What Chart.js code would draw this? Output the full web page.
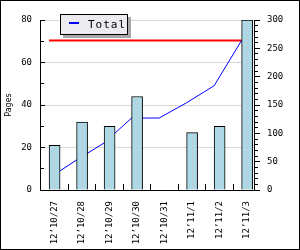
<!DOCTYPE html>
<html>
<head>
<meta charset="utf-8">
<script src="https://cdn.jsdelivr.net/npm/chart.js@4"></script>
<style>
  html, body { margin: 0; padding: 0; background: #fff; }
  canvas { display: block; }
</style>
</head>
<body>
<canvas id="chart" width="300" height="250"></canvas>
<script>
// values
var days = ['12’10/27', '12’10/28', '12’10/29', '12’10/30', '12’10/31', '12’11/1', '12’11/2', '12’11/3'];
var pages = [21, 32, 30, 44, 0, 27, 30, 80];
var totalPages = [21, 53, 83, 127, 127, 154, 184, 264];
var totalLimit = [264, 264, 264, 264, 264, 264, 264, 264];
var leftTicks = [0, 20, 40, 60, 80];
var rightTicks = [0, 50, 100, 150, 200, 250, 300];

var tickFont = { family: 'DejaVu Sans Mono', size: 9 };

function crisp(p) {
  return Math.round(p - 0.5) + 0.5;
}

function tickLine(ctx, x1, y1, x2, y2) {
  ctx.beginPath();
  ctx.moveTo(x1, y1);
  ctx.lineTo(x2, y2);
  ctx.stroke();
}

function toPoints(values) {
  return values.map(function(v, i) { return { x: i, y: v }; });
}

// white page + outer frame
var framePlugin = {
  id: 'frame',
  beforeDraw: function(chart) {
    var ctx = chart.ctx;
    ctx.save();
    ctx.fillStyle = '#fff';
    ctx.fillRect(0, 0, chart.width, chart.height);
    ctx.restore();
  },
  afterDraw: function(chart) {
    var ctx = chart.ctx;
    ctx.save();
    ctx.strokeStyle = '#000';
    ctx.lineWidth = 1;
    ctx.strokeRect(0.5, 0.5, chart.width - 1, chart.height - 1);
    ctx.restore();
  }
};

// little dotted line down the middle of every bar
var barDots = {
  id: 'barDots',
  afterDatasetsDraw: function(chart) {
    var ctx = chart.ctx;
    ctx.save();
    ctx.strokeStyle = '#e8b0a8';
    ctx.lineWidth = 1;
    ctx.setLineDash([1, 3]);
    chart.getDatasetMeta(0).data.forEach(function(bar) {
      if (bar.base - bar.y < 4) return;
      var x = crisp(bar.x);
      tickLine(ctx, x, bar.y + 3, x, bar.base);
    });
    ctx.restore();
  }
};

// tick marks: inward on left and bottom, outward on the right, with minors
var axisMarks = {
  id: 'axisMarks',
  afterDraw: function(chart) {
    var ctx = chart.ctx;
    var area = chart.chartArea;
    var y = chart.scales.y, y1 = chart.scales.y1, x = chart.scales.x;
    var left = Math.round(area.left);
    var right = Math.round(area.right);
    var bottom = Math.round(area.bottom);
    ctx.save();
    ctx.strokeStyle = '#000';
    ctx.lineWidth = 1;
    for (var v = y.min; v <= y.max; v += 10) {
      var py = crisp(y.getPixelForValue(v));
      tickLine(ctx, left, py, left + (v % 20 === 0 ? 5 : 4), py);
    }
    for (var w = y1.min; w <= y1.max; w += 10) {
      var qy = crisp(y1.getPixelForValue(w));
      tickLine(ctx, right, qy, right + (w % 50 === 0 ? 6 : 4), qy);
    }
    for (var i = 0; i < days.length - 1; i++) {
      var px = crisp(x.getPixelForValue(i + 0.5));
      tickLine(ctx, px, bottom - 6, px, bottom + 1);
    }
    ctx.restore();
  }
};

// boxed legend with a drop shadow
var boxLegend = {
  id: 'boxLegend',
  afterDraw: function(chart) {
    var ctx = chart.ctx;
    var ds = chart.data.datasets[1];
    ctx.save();
    ctx.fillStyle = '#a8a8a8';
    ctx.fillRect(63, 17, 68, 21);
    ctx.fillStyle = '#ecebf0';
    ctx.fillRect(60, 14, 68, 21);
    ctx.strokeStyle = '#000';
    ctx.lineWidth = 1;
    ctx.strokeRect(60.5, 14.5, 67, 20);
    ctx.strokeStyle = ds.borderColor;
    ctx.lineWidth = 2;
    tickLine(ctx, 69, 23, 79, 23);
    ctx.fillStyle = '#000';
    ctx.font = '11px "DejaVu Sans Mono"';
    ctx.letterSpacing = '1px';
    ctx.textBaseline = 'alphabetic';
    ctx.fillText(ds.label, 88, 28);
    ctx.restore();
  }
};

new Chart(document.getElementById('chart'), {
  type: 'bar',
  data: {
    datasets: [{
      type: 'bar',
      label: 'Pages',
      data: toPoints(pages),
      xAxisID: 'x',
      yAxisID: 'y',
      backgroundColor: '#add8e6',
      borderColor: '#000',
      borderWidth: 1,
      borderSkipped: 'bottom',
      barThickness: 11,
      grouped: false
    }, {
      type: 'line',
      label: 'Total',
      data: toPoints(totalPages),
      xAxisID: 'xl',
      yAxisID: 'y1',
      borderColor: '#0000ff',
      borderWidth: 1,
      pointRadius: 0,
      tension: 0,
      fill: false
    }, {
      type: 'line',
      label: 'Limit',
      data: toPoints(totalLimit),
      xAxisID: 'xl',
      yAxisID: 'y1',
      borderColor: '#ff0000',
      borderWidth: 2,
      pointRadius: 0,
      fill: false
    }]
  },
  options: {
    responsive: false,
    animation: false,
    devicePixelRatio: 1,
    layout: { padding: { top: 20, left: 0, right: 0, bottom: 0 } },
    plugins: {
      legend: { display: false },
      tooltip: { enabled: false }
    },
    scales: {
      x: {
        type: 'linear',
        position: 'bottom',
        min: -0.53,
        max: 7.25,
        offset: false,
        afterBuildTicks: function(s) {
          s.ticks = days.map(function(d, i) { return { value: i }; });
        },
        ticks: {
          autoSkip: false,
          maxRotation: 90,
          minRotation: 90,
          padding: 11,
          color: '#000',
          font: tickFont,
          callback: function(v) { return days[v]; }
        },
        grid: { display: false, drawTicks: false, offset: false },
        border: { display: true, color: '#000' },
        afterFit: function(s) { s.height = 60; }
      },
      xl: {
        type: 'linear',
        display: false,
        min: -0.33,
        max: 7.45,
        offset: false
      },
      y: {
        position: 'left',
        min: 0,
        max: 80,
        afterBuildTicks: function(s) {
          s.ticks = leftTicks.map(function(v) { return { value: v }; });
        },
        ticks: { padding: 8, color: '#000', font: tickFont },
        grid: {
          drawTicks: false,
          color: function(c) { return c.tick && c.tick.value === 0 ? 'rgba(0,0,0,0)' : '#d8d8d8'; }
        },
        border: { color: '#000' },
        title: {
          display: true,
          text: 'Pages',
          color: '#000',
          font: { family: 'DejaVu Sans', size: 8 },
          padding: { top: 4, bottom: 0 }
        },
        afterFit: function(s) { s.width = 40; }
      },
      y1: {
        position: 'right',
        min: 0,
        max: 300,
        afterBuildTicks: function(s) {
          s.ticks = rightTicks.map(function(v) { return { value: v }; });
        },
        ticks: { padding: 13, color: '#000', font: tickFont },
        grid: { display: false, drawTicks: false },
        border: { color: '#000' },
        afterFit: function(s) { s.width = 46; }
      }
    }
  },
  plugins: [framePlugin, barDots, axisMarks, boxLegend]
});
</script>
</body>
</html>
